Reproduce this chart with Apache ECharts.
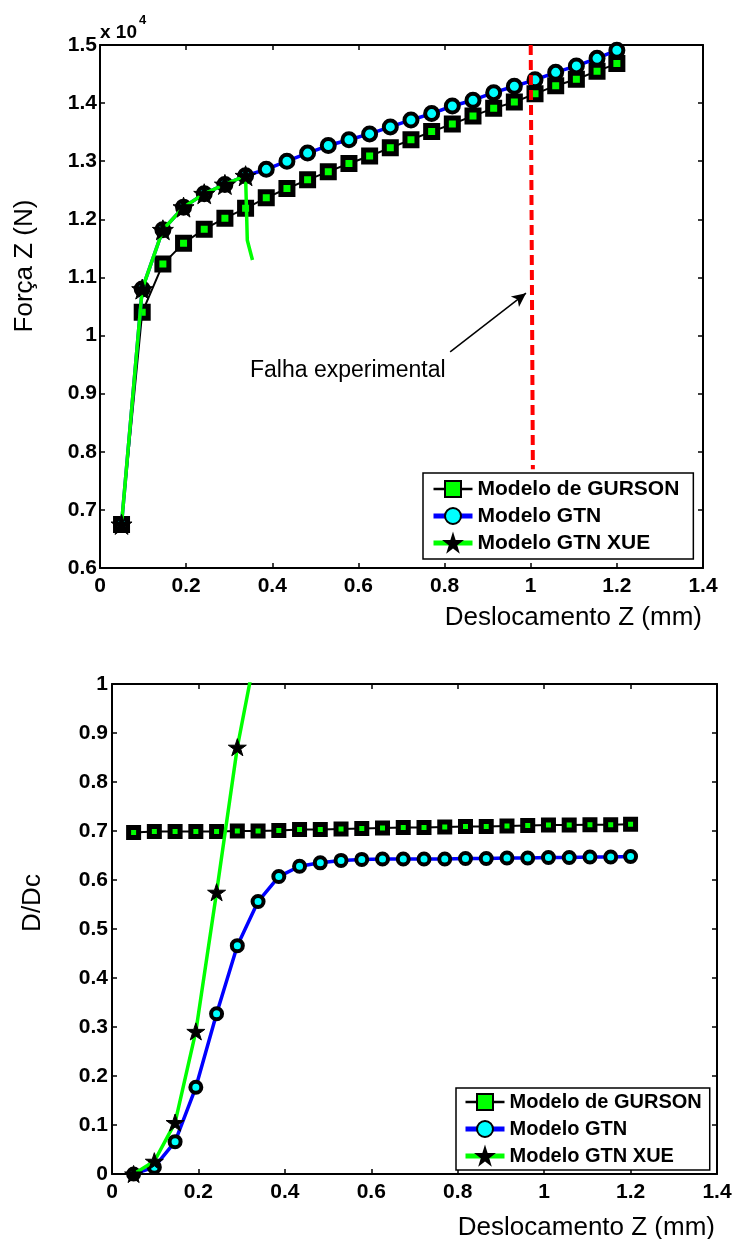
<!DOCTYPE html>
<html>
<head>
<meta charset="utf-8">
<script src="https://cdn.jsdelivr.net/npm/echarts@6/dist/echarts.min.js"></script>
<style>
  html, body { margin: 0; padding: 0; background: #fff; }
  #chart { width: 735px; height: 1239px; }
</style>
</head>
<body>
<div id="chart"></div>
<script>
// deslocamento Z (mm) - mesmo para todas as curvas
var desloc = [0.05, 0.098, 0.146, 0.194, 0.242, 0.29, 0.338, 0.386, 0.434, 0.482, 0.53, 0.578, 0.626,
  0.674, 0.722, 0.77, 0.818, 0.866, 0.914, 0.962, 1.01, 1.058, 1.106, 1.154, 1.2];

// grafico 1: forca Z (N)
var forcaGurson = [6750, 10400, 11230, 11590, 11830, 12020, 12190, 12370, 12530, 12680, 12820, 12960, 13090,
  13230, 13370, 13510, 13640, 13780, 13910, 14020, 14160, 14300, 14410, 14550, 14680];
var forcaGtn = [6750, 10800, 11820, 12210, 12440, 12600, 12750, 12860, 13000, 13140, 13270, 13370, 13470,
  13590, 13710, 13820, 13950, 14050, 14180, 14290, 14400, 14530, 14640, 14770, 14910];
var forcaXue = [6750, 10800, 11820, 12210, 12440, 12600, 12750];
var forcaXueFimX = [0.342, 0.354];   // trecho final sem marcador
var forcaXueFimY = [11640, 11300];
var falhaX = [1.0, 1.005];
var falhaY = [15000, 7700];
var setaDe = [0.813, 9720];
var setaPara = [0.989, 10730];

// grafico 2: D/Dc
var danoGurson = [0.697, 0.699, 0.699, 0.699, 0.699, 0.7, 0.7, 0.701, 0.703, 0.703, 0.704, 0.705, 0.706,
  0.707, 0.707, 0.708, 0.709, 0.709, 0.71, 0.711, 0.712, 0.712, 0.713, 0.713, 0.714];
var danoGtn = [0, 0.014, 0.066, 0.177, 0.327, 0.466, 0.556, 0.607, 0.628, 0.635, 0.64, 0.642, 0.643,
  0.643, 0.643, 0.643, 0.644, 0.644, 0.645, 0.645, 0.646, 0.646, 0.647, 0.647, 0.648];
var danoXue = [0, 0.026, 0.105, 0.291, 0.575, 0.871];
var danoXueFimX = [0.338];
var danoXueFimY = [1.09];

var nomes = ['Modelo de GURSON', 'Modelo GTN', 'Modelo GTN XUE'];

var estrela = 'path://M50,0L61.23,34.55L97.55,34.55L68.17,55.9L79.39,90.45L50,69.1L20.61,90.45L31.83,55.9L2.45,34.55L38.77,34.55Z';
var fonte = '"Liberation Sans", Arial, sans-serif';

function pares(xs, ys) {
  return ys.map(function (y, i) { return [xs[i], y]; });
}
function comFim(xs, ys, fimX, fimY) {
  var d = pares(xs, ys);
  fimX.forEach(function (x, i) {
    d.push({ value: [x, fimY[i]], symbol: 'none' });
  });
  return d;
}

function eixoX(grid, pos) {
  return {
    type: 'value', gridIndex: grid, position: pos, min: 0, max: 1.4, interval: 0.2,
    axisLine: { show: true, onZero: false, lineStyle: { color: '#000', width: 2 } },
    axisTick: { show: true, inside: true, length: 5, lineStyle: { color: '#000', width: 1.5 } },
    axisLabel: {
      show: pos === 'bottom', margin: 8, color: '#000', fontFamily: fonte,
      fontWeight: 'bold', fontSize: 21
    },
    splitLine: { show: false }
  };
}
function eixoY(grid, pos, min, max, step, fmt, margem) {
  return {
    type: 'value', gridIndex: grid, position: pos, min: min, max: max, interval: step,
    axisLine: { show: true, onZero: false, lineStyle: { color: '#000', width: 2 } },
    axisTick: { show: true, inside: true, length: 5, lineStyle: { color: '#000', width: 1.5 } },
    axisLabel: {
      show: pos === 'left', margin: margem, color: '#000', fontFamily: fonte,
      fontWeight: 'bold', fontSize: 21, formatter: fmt
    },
    splitLine: { show: false }
  };
}

function serieGurson(xi, yi, data, tam) {
  return {
    name: nomes[0], type: 'line', xAxisIndex: xi, yAxisIndex: yi, data: data,
    symbol: 'rect', symbolSize: tam, showAllSymbol: true,
    lineStyle: { color: '#000', width: 2 },
    itemStyle: { color: '#00ff00', borderColor: '#000', borderWidth: 5 },
    emphasis: { disabled: true }, z: 2
  };
}
function serieGtn(xi, yi, data, tam) {
  return {
    name: nomes[1], type: 'line', xAxisIndex: xi, yAxisIndex: yi, data: data,
    symbol: 'circle', symbolSize: tam, showAllSymbol: true,
    lineStyle: { color: '#0000ff', width: 3.5 },
    itemStyle: { color: '#00ffff', borderColor: '#000', borderWidth: 4 },
    emphasis: { disabled: true }, z: 3
  };
}
function serieXue(xi, yi, data, tam) {
  return {
    name: nomes[2], type: 'line', xAxisIndex: xi, yAxisIndex: yi, data: data,
    symbol: estrela, symbolSize: tam, symbolKeepAspect: true, showAllSymbol: true,
    lineStyle: { color: '#00ff00', width: 3.5 },
    itemStyle: { color: '#000', borderColor: '#000', borderWidth: 1 },
    emphasis: { disabled: true }, z: 4
  };
}

function legenda(left, top, tamFonte, padding) {
  return {
    data: [
      { name: nomes[0], lineStyle: { width: 2.5 } },
      { name: nomes[1], lineStyle: { width: 5 } },
      { name: nomes[2], lineStyle: { width: 5 } }
    ],
    orient: 'vertical', left: left, top: top,
    backgroundColor: '#fff', borderColor: '#000', borderWidth: 1.5, borderRadius: 0,
    padding: padding, itemWidth: 39, itemHeight: 20, itemGap: 3,
    selectedMode: false,
    textStyle: { color: '#000', fontFamily: fonte, fontWeight: 'bold', fontSize: tamFonte, lineHeight: 24 }
  };
}

var chart = echarts.init(document.getElementById('chart'), null, { renderer: 'canvas' });
chart.setOption({
  animation: false,
  backgroundColor: '#fff',
  grid: [
    { left: 100, top: 45, width: 603, height: 523 },
    { left: 112, top: 684, width: 605, height: 490 }
  ],
  xAxis: [eixoX(0, 'bottom'), eixoX(0, 'top'), eixoX(1, 'bottom'), eixoX(1, 'top')],
  yAxis: [
    eixoY(0, 'left', 6000, 15000, 1000, function (v) { return String(v / 10000); }, 3),
    eixoY(0, 'right', 6000, 15000, 1000, null, 3),
    eixoY(1, 'left', 0, 1, 0.1, null, 4),
    eixoY(1, 'right', 0, 1, 0.1, null, 4)
  ],
  legend: [
    legenda(423, 473, 21, [4, 14, 4, 8]),
    legenda(456, 1088, 20, [2, 8, 2, 7])
  ],
  series: [
    serieGurson(0, 0, pares(desloc, forcaGurson), 12),
    serieGtn(0, 0, pares(desloc, forcaGtn), 13),
    serieXue(0, 0, comFim(desloc, forcaXue, forcaXueFimX, forcaXueFimY), 21),
    {
      name: 'Falha', type: 'line', xAxisIndex: 0, yAxisIndex: 0, data: pares(falhaX, falhaY),
      symbol: 'none', lineStyle: { color: '#ff0000', width: 4, type: [10, 5] },
      emphasis: { disabled: true }, z: 5,
      markLine: {
        silent: true, symbol: ['none', 'arrow'], symbolSize: [10, 14],
        lineStyle: { color: '#000', width: 1.5, type: 'solid' },
        label: { show: false },
        data: [[{ coord: setaDe }, { coord: setaPara }]]
      }
    },
    serieGurson(2, 2, pares(desloc, danoGurson), 10),
    serieGtn(2, 2, pares(desloc, danoGtn), 11),
    serieXue(2, 2, comFim(desloc, danoXue, danoXueFimX, danoXueFimY), 18)
  ],
  graphic: [
    { type: 'text', left: 100, top: 23, style: { text: 'x 10', font: 'bold 19px ' + fonte, fill: '#000' } },
    { type: 'text', left: 139, top: 14, style: { text: '4', font: 'bold 13px ' + fonte, fill: '#000' } },
    {
      type: 'text', x: 25, y: 266, rotation: Math.PI / 2,
      style: { text: 'Força Z (N)', font: '26px ' + fonte, fill: '#000', align: 'center', verticalAlign: 'middle' }
    },
    {
      type: 'text', x: 702, y: 618,
      style: { text: 'Deslocamento Z (mm)', font: '26px ' + fonte, fill: '#000', align: 'right', verticalAlign: 'middle' }
    },
    {
      type: 'text', x: 250, y: 371,
      style: { text: 'Falha experimental', font: '23px ' + fonte, fill: '#000', align: 'left', verticalAlign: 'middle' }
    },
    {
      type: 'text', x: 33, y: 903, rotation: Math.PI / 2,
      style: { text: 'D/Dc', font: '26px ' + fonte, fill: '#000', align: 'center', verticalAlign: 'middle' }
    },
    {
      type: 'text', x: 715, y: 1228,
      style: { text: 'Deslocamento Z (mm)', font: '26px ' + fonte, fill: '#000', align: 'right', verticalAlign: 'middle' }
    }
  ]
});
</script>
</body>
</html>
